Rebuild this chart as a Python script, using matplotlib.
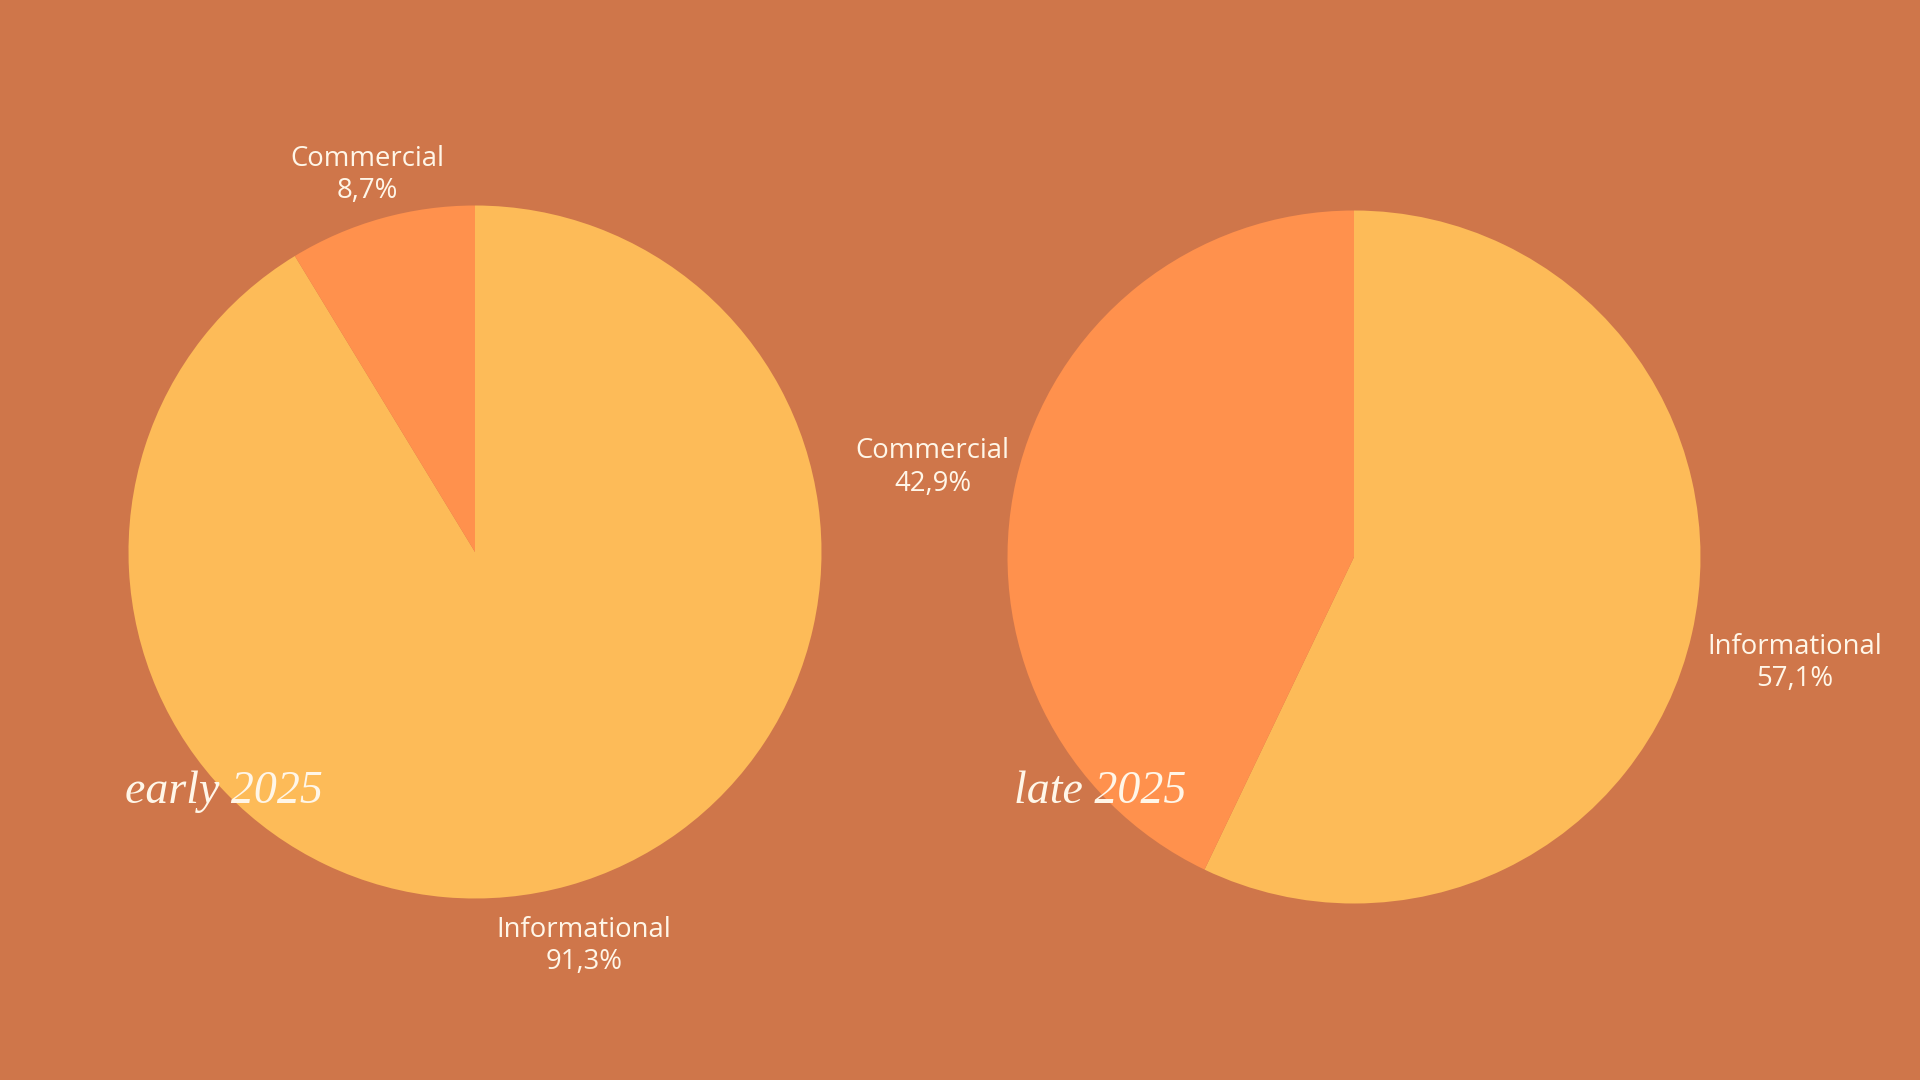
import numpy as np
import matplotlib.pyplot as plt

# data
categories = ['Informational', 'Commercial']
early_2025 = [91.3, 8.7]
late_2025 = [57.1, 42.9]
titles = ['early 2025', 'late 2025']

bg = '#CF764A'
colors = ['#FDBB58', '#FF914D']
txt = '#FFF6E8'

fig = plt.figure(figsize=(19.2, 10.8), dpi=100)
fig.patch.set_facecolor(bg)

W, H = 1920, 1080
R = 346.5


def draw_pie(cx, cy, values, title, tx):
	ax = fig.add_axes([(cx - R) / W, 1 - (cy + R) / H, 2 * R / W, 2 * R / H])
	wedges, _ = ax.pie(values, colors=colors, startangle=90, counterclock=False,
		radius=1, wedgeprops={'linewidth': 0})
	ax.set_xlim(-1, 1)
	ax.set_ylim(-1, 1)
	ax.set_aspect('equal')
	ax.axis('off')

	# outside labels: category + percent with comma decimal
	for w, name, v in zip(wedges, categories, values):
		ang = np.deg2rad((w.theta1 + w.theta2) / 2)
		c = np.cos(ang)
		d = 1.11 + 0.17 * abs(c) + 0.03 * c
		label = name + '\n' + ('%.1f%%' % v).replace('.', ',')
		ax.annotate(label, (d * c, d * np.sin(ang)), xytext=(0, -4.3),
			textcoords='offset points', ha='center', va='center',
			color=txt, fontsize=19.8, family='Open Sans', linespacing=1.2,
			annotation_clip=False)

	fig.text(tx / W, 1 - 792 / H, title, ha='left', va='center', color=txt,
		fontsize=33, family='Liberation Serif', style='italic')


draw_pie(475, 552, early_2025, titles[0], 125)
draw_pie(1354, 557, late_2025, titles[1], 1014)

fig.savefig('out.png', dpi=100, facecolor=bg)
